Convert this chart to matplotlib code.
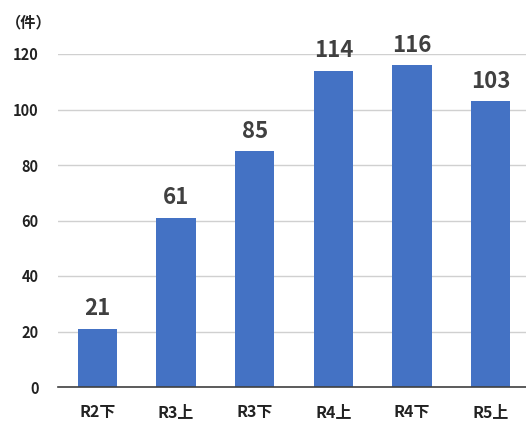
import matplotlib
matplotlib.use("Agg")
from matplotlib import pyplot as plt

plt.rcParams['font.family'] = ['Noto Sans CJK JP', 'DejaVu Sans']

# data
categories = ["R2下", "R3上", "R3下", "R4上", "R4下", "R5上"]
counts = [21, 61, 85, 114, 116, 103]
yticks = [0, 20, 40, 60, 80, 100, 120]

text_color = "#404040"

fig = plt.figure(figsize=(5.26, 4.24), dpi=100)
# the original chart is slightly cropped on the right side
ax = fig.add_axes([58 / 526, 37 / 424, 472 / 526, 333 / 424])

x = range(len(categories))
ax.bar(x, counts, width=0.5, color="#4472C4", zorder=3)

for xi, v in zip(x, counts):
    ax.text(xi, v + 3, str(v), ha="center", va="bottom",
            fontsize=16, fontweight="bold", color=text_color)

ax.set_xlim(-0.5, 5.5)
ax.set_ylim(0, 120)
ax.set_yticks(yticks)
ax.set_xticks(list(x))
ax.set_xticklabels(categories)

ax.grid(axis="y", color="#d0d0d0", linewidth=1, zorder=0)
for side in ["top", "right", "left"]:
    ax.spines[side].set_visible(False)
ax.spines["bottom"].set_color("#404040")
ax.spines["bottom"].set_linewidth(1.2)
ax.spines["bottom"].set_zorder(4)

ax.tick_params(axis="both", length=0, labelcolor="#222222")
ax.tick_params(axis="y", labelsize=10.5, pad=14)
ax.tick_params(axis="x", labelsize=11.5, pad=12)
for lab in ax.get_xticklabels() + ax.get_yticklabels():
    lab.set_fontweight("bold")

fig.text(6 / 526, 1 - 22 / 424, "（件）", ha="left", va="center",
         fontsize=11, fontweight="bold", color="#222222")

fig.savefig("out.png", dpi=100)
